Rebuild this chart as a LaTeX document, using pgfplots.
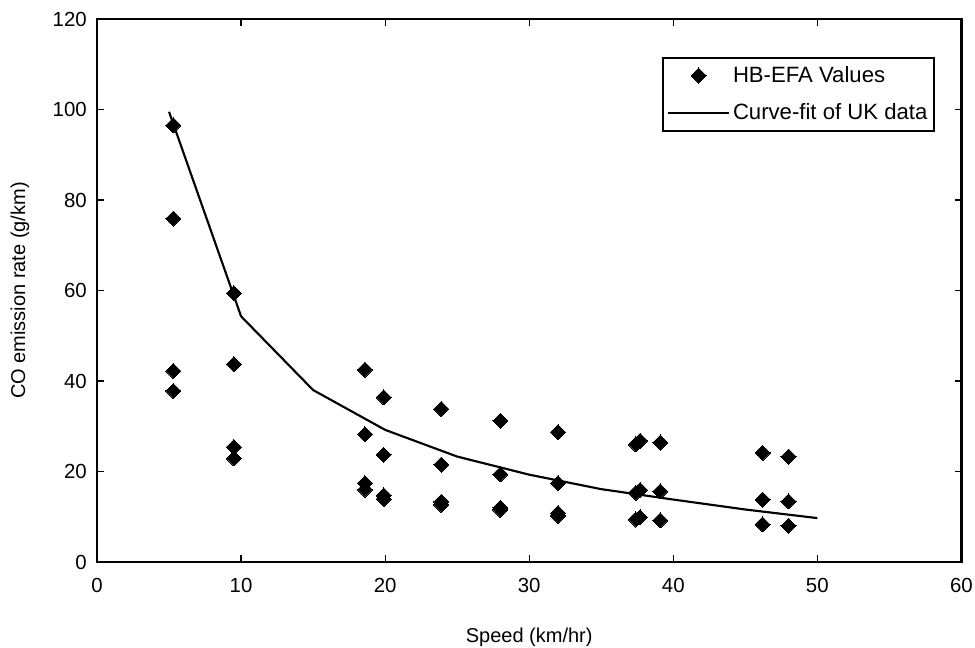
\documentclass[border=0pt]{standalone}
\usepackage{fontspec}
\setmainfont{Liberation Sans}
\usepackage{pgfplots}
\pgfplotsset{compat=1.18}
\pgfplotsset{
  markleg/.style={legend image code/.code={\draw[##1] plot coordinates {(23pt,0pt)};}},
  lineleg/.style={legend image code/.code={\draw[##1] (0pt,0pt) -- (46pt,0pt);}},
}
\begin{document}
\fontsize{15}{18}\selectfont
\begin{tikzpicture}
\useasboundingbox (-72.75pt,-64.5pt) rectangle (658.5pt,421.5pt);
\begin{axis}[
  at={(0,0)}, anchor=south west,
  scale only axis, width=648.3pt, height=407.25pt,
  xmin=0, xmax=60, ymin=0, ymax=120,
  xtick={0,10,...,60}, ytick={0,20,...,120},
  tick align=inside, major tick length=5pt,
  tick style={black, line width=0.9pt},
  axis line style={line width=2pt},
  /pgf/number format/assume math mode=true,
  ticklabel style={font=\fontsize{15.3}{18}\selectfont},
  xticklabel style={yshift=-7pt},
  yticklabel style={xshift=-2.5pt},
  xlabel={Speed (km/hr)},
  ylabel={CO emission rate (g/km)},
  every axis x label/.style={at={(axis description cs:0.5,-0.138)}, anchor=center, font=\fontsize{15}{18}\selectfont},
  every axis y label/.style={at={(axis description cs:-0.0891,0.5)}, anchor=center, rotate=90, font=\fontsize{15}{18}\selectfont},
  legend style={at={(axis description cs:0.9695,0.930)}, anchor=north east,
    draw=black, line width=1.5pt, font=\fontsize{16.6}{19}\selectfont,
    inner xsep=3pt, inner ysep=4pt, row sep=10pt, cells={anchor=west},
    nodes={inner xsep=2pt}},
  legend cell align=left,
]
\addplot[only marks, mark=square*, mark size=4pt, mark options={rotate=45, fill=black, draw=black, line width=0pt}, markleg]
coordinates {
(5.3,96.5) (5.3,75.9) (5.3,42.2) (5.3,37.8)
(9.5,59.4) (9.5,43.7) (9.5,25.4) (9.5,22.9)
(18.6,42.5) (18.6,28.2) (18.6,17.4) (18.6,16.0)
(19.9,36.4) (19.9,23.7) (19.9,14.7) (19.9,13.9)
(23.9,33.8) (23.9,21.5) (23.9,13.3) (23.9,12.6)
(28.0,31.2) (28.0,19.4) (28.0,12.0) (28.0,11.5)
(32.0,28.7) (32.0,17.4) (32.0,10.8) (32.0,10.2)
(37.4,26.0) (37.4,15.3) (37.4,9.4)
(37.7,26.8) (37.7,15.9) (37.7,9.9)
(39.1,26.4) (39.1,15.6) (39.1,9.2)
(46.2,24.1) (46.2,13.8) (46.2,8.3)
(48.0,23.3) (48.0,13.4) (48.0,8.0)
};
\addlegendentry{HB-EFA Values}
\addplot[black, line width=1.6pt, no marks, lineleg]
coordinates {
(5,99.5) (10,54.3) (15,38.0) (20,29.2) (25,23.3) (30,19.3) (35,16.1) (40,13.8) (45,11.6) (50,9.7)
};
\addlegendentry{Curve-fit of UK data}
\end{axis}
\end{tikzpicture}
\end{document}
